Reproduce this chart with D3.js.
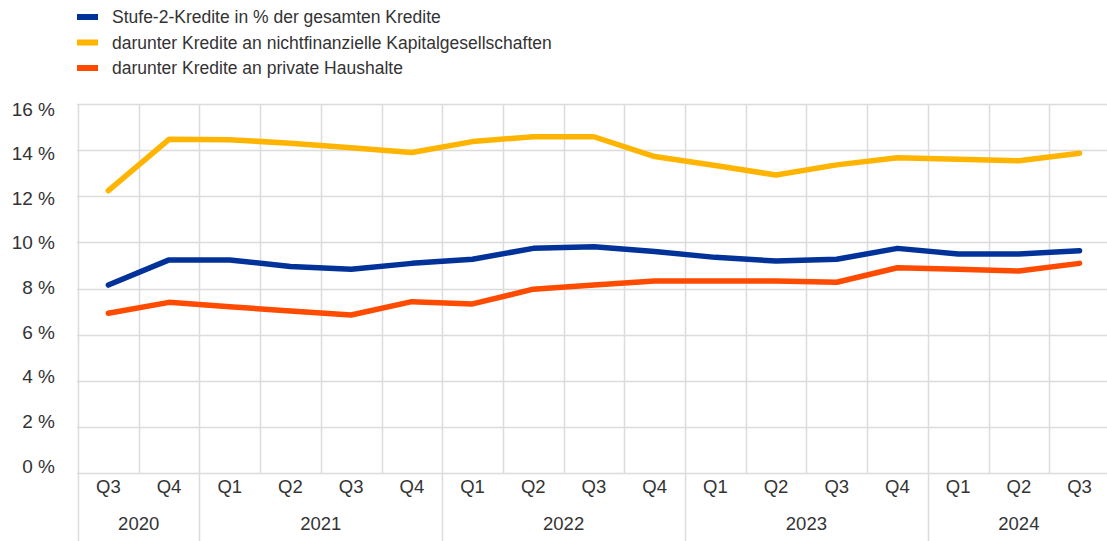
<!DOCTYPE html>
<html>
<head>
<meta charset="utf-8">
<script src="https://cdn.jsdelivr.net/npm/d3@7"></script>
<style>
  html, body { margin: 0; padding: 0; background: #fff; }
  svg { display: block; font-family: "Liberation Sans", Arial, sans-serif; }
</style>
</head>
<body>
<svg id="chart" width="1107" height="541"></svg>
<script>
// Quarterly periods, Q3 2020 to Q3 2024
const quarters = ["Q3","Q4","Q1","Q2","Q3","Q4","Q1","Q2","Q3","Q4","Q1","Q2","Q3","Q4","Q1","Q2","Q3"];
const years = ["2020","2020","2021","2021","2021","2021","2022","2022","2022","2022","2023","2023","2023","2023","2024","2024","2024"];

// Stage 2 loans as % of total loans
const stage2Total = [8.15, 9.24, 9.24, 8.95, 8.83, 9.09, 9.27, 9.74, 9.81, 9.60, 9.35, 9.19, 9.27, 9.74, 9.50, 9.50, 9.64];
// of which loans to non-financial corporations
const stage2NFC = [12.24, 14.47, 14.45, 14.30, 14.10, 13.90, 14.37, 14.58, 14.58, 13.72, 13.33, 12.92, 13.36, 13.67, 13.60, 13.54, 13.86];
// of which loans to households
const stage2HH = [6.93, 7.40, 7.21, 7.02, 6.85, 7.43, 7.33, 7.97, 8.15, 8.33, 8.33, 8.33, 8.27, 8.90, 8.83, 8.76, 9.09];

const yTicks = [0, 2, 4, 6, 8, 10, 12, 14, 16];

const seriesNames = [
  "Stufe-2-Kredite in % der gesamten Kredite",
  "darunter Kredite an nichtfinanzielle Kapitalgesellschaften",
  "darunter Kredite an private Haushalte"
];
const seriesColors = ["#003299", "#FFB400", "#FF4B00"];
const seriesValues = [stage2Total, stage2NFC, stage2HH];

const svg = d3.select("#chart");
const gridColor = "#dcdcdc";
const textColor = "#333333";

const left = 78, band = 60.7;
const x = d3.scaleBand()
  .domain(d3.range(quarters.length))
  .range([left, left + band * quarters.length])
  .paddingInner(0).paddingOuter(0);

const y = d3.scaleLinear().domain([0, 16]).range([473, 104]);
// label positions (labels sit slightly tighter than the grid)
const yLabel = d3.scaleLinear().domain([0, 16]).range([466, 109]);

// horizontal grid
svg.append("g")
  .selectAll("line")
  .data(yTicks)
  .join("line")
  .attr("x1", left - 1).attr("x2", 1107)
  .attr("y1", d => Math.round(y(d)) + 0.5).attr("y2", d => Math.round(y(d)) + 0.5)
  .attr("stroke", gridColor).attr("stroke-width", 1.5);

// vertical grid at quarter boundaries; year boundaries run down through the labels
const boundaries = d3.range(quarters.length + 1);
svg.append("g")
  .selectAll("line")
  .data(boundaries)
  .join("line")
  .attr("x1", i => Math.round(left + band * i) + 0.5)
  .attr("x2", i => Math.round(left + band * i) + 0.5)
  .attr("y1", y(16))
  .attr("y2", i => (i === 0 || (i < years.length && years[i] !== years[i - 1])) ? 541 : y(0))
  .attr("stroke", gridColor).attr("stroke-width", 1.5);

// y-axis labels
const yAxis = d3.axisLeft(yLabel).tickValues(yTicks).tickFormat(d => d + " %").tickSize(0).tickPadding(0);
const yg = svg.append("g").attr("transform", "translate(55,0)").call(yAxis);
yg.select(".domain").remove();
yg.selectAll("text")
  .attr("fill", textColor)
  .style("font-size", "19px")
  .style("font-family", "'Liberation Sans', Arial, sans-serif");

// quarter labels
const xAxis = d3.axisBottom(x).tickFormat(i => quarters[i]).tickSize(0).tickPadding(0);
const xg = svg.append("g").attr("transform", "translate(0,480)").call(xAxis);
xg.select(".domain").remove();
xg.selectAll("text")
  .attr("fill", textColor)
  .style("font-size", "18.5px")
  .style("font-family", "'Liberation Sans', Arial, sans-serif");

// year labels centred under each year group
const yearGroups = d3.groups(d3.range(years.length), i => years[i]);
svg.append("g")
  .selectAll("text")
  .data(yearGroups)
  .join("text")
  .attr("x", ([, idx]) => (x(idx[0]) + x(idx[idx.length - 1]) + x.bandwidth()) / 2)
  .attr("y", 530)
  .attr("text-anchor", "middle")
  .attr("fill", textColor)
  .style("font-size", "18.5px")
  .text(([yr]) => yr);

// lines
const line = d3.line()
  .x((d, i) => x(i) + x.bandwidth() / 2)
  .y(d => y(d));

svg.append("g")
  .selectAll("path")
  .data(seriesValues)
  .join("path")
  .attr("d", d => line(d))
  .attr("fill", "none")
  .attr("stroke", (d, i) => seriesColors[i])
  .attr("stroke-width", 5.5)
  .attr("stroke-linejoin", "round")
  .attr("stroke-linecap", "round");

// legend
const legend = svg.append("g");
const legendRows = legend.selectAll("g")
  .data(seriesNames)
  .join("g")
  .attr("transform", (d, i) => `translate(77, ${17 + i * 25.5})`);
legendRows.append("rect")
  .attr("x", 0).attr("y", -3).attr("width", 21).attr("height", 6)
  .attr("fill", (d, i) => seriesColors[i]);
legendRows.append("text")
  .attr("x", 35).attr("y", 0).attr("dy", "0.35em")
  .attr("fill", textColor)
  .style("font-size", "17.5px")
  .text(d => d);
</script>
</body>
</html>
